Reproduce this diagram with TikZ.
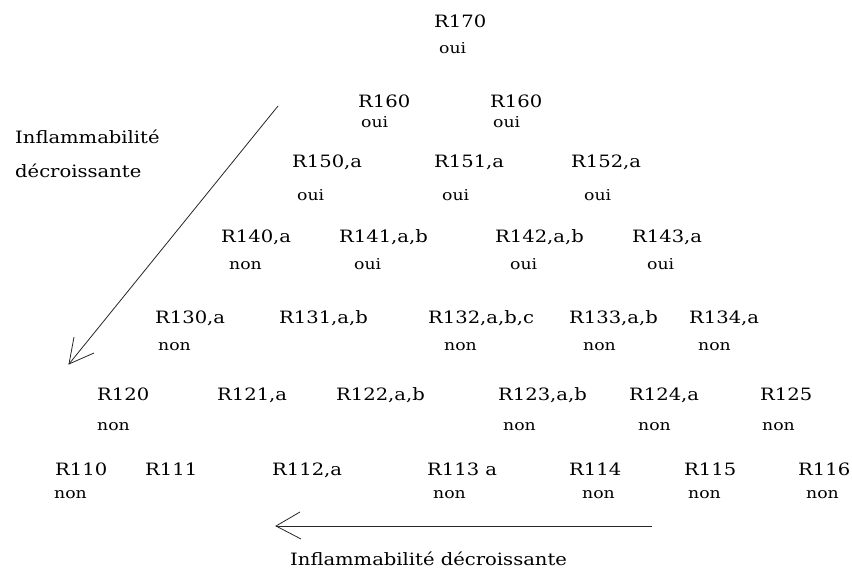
\documentclass[tikz,border=0pt]{standalone}
\usepackage{fontspec}
\newfontfamily\labfont[FakeStretch=1.15]{DejaVu Serif}
\begin{document}
\begin{tikzpicture}[x=1pt,y=-1pt,
  lab/.style={anchor=base west,inner sep=0pt,font=\labfont\fontsize{17}{20}\selectfont},
  ans/.style={anchor=base west,inner sep=0pt,font=\labfont\fontsize{15}{18}\selectfont},
  arr/.style={line width=0.8pt,black!85}]
\useasboundingbox (0,0) rectangle (852,571);
% row 170
\node[lab] (r170) at (434,27) {R170};
\node[ans] (a170) at (439,53) {oui};
% row 160
\node[lab] (r160a) at (358,107) {R160};
\node[lab] (r160b) at (490,107) {R160};
\node[ans] (a160a) at (361,127) {oui};
\node[ans] (a160b) at (493,127) {oui};
% row 150
\node[lab] (r150) at (292,167) {R150,a};
\node[lab] (r151) at (434,167) {R151,a};
\node[lab] (r152) at (571,167) {R152,a};
\node[ans] (a150) at (297,200) {oui};
\node[ans] (a151) at (442,200) {oui};
\node[ans] (a152) at (584,200) {oui};
% row 140
\node[lab] (r140) at (221,242) {R140,a};
\node[lab] (r141) at (339,242) {R141,a,b};
\node[lab] (r142) at (495,242) {R142,a,b};
\node[lab] (r143) at (632,242) {R143,a};
\node[ans] (a140) at (229,269) {non};
\node[ans] (a141) at (354,269) {oui};
\node[ans] (a142) at (510,269) {oui};
\node[ans] (a143) at (647,269) {oui};
% row 130
\node[lab] (r130) at (155,323) {R130,a};
\node[lab] (r131) at (279,323) {R131,a,b};
\node[lab] (r132) at (428,323) {R132,a,b,c};
\node[lab] (r133) at (569,323) {R133,a,b};
\node[lab] (r134) at (689,323) {R134,a};
\node[ans] (a130) at (158,350) {non};
\node[ans] (a132) at (444,350) {non};
\node[ans] (a133) at (583,350) {non};
\node[ans] (a134) at (698,350) {non};
% row 120
\node[lab] (r120) at (97,400) {R120};
\node[lab] (r121) at (217,400) {R121,a};
\node[lab] (r122) at (336,400) {R122,a,b};
\node[lab] (r123) at (498,400) {R123,a,b};
\node[lab] (r124) at (629,400) {R124,a};
\node[lab] (r125) at (760,400) {R125};
\node[ans] (a120) at (97,430) {non};
\node[ans] (a123) at (503,430) {non};
\node[ans] (a124) at (638,430) {non};
\node[ans] (a125) at (762,430) {non};
% row 110
\node[lab] (r110) at (55,475) {R110};
\node[lab] (r111) at (145,475) {R111};
\node[lab] (r112) at (272,475) {R112,a};
\node[lab] (r113) at (427,475) {R113 a};
\node[lab] (r114) at (569,475) {R114};
\node[lab] (r115) at (684,475) {R115};
\node[lab] (r116) at (798,475) {R116};
\node[ans] (a110) at (54,498) {non};
\node[ans] (a113) at (433,498) {non};
\node[ans] (a114) at (582,498) {non};
\node[ans] (a115) at (688,498) {non};
\node[ans] (a116) at (806,498) {non};
% side labels
\node[lab] (infl1) at (15,143) {Inflammabilité};
\node[lab] (infl2) at (15,177) {décroissante};
\node[lab] (infl3) at (290,565) {Inflammabilité décroissante};
% diagonal arrow
\coordinate (d1) at (278,106);
\coordinate (d2) at (69,364);
\coordinate (d3) at (74,337);
\coordinate (d4) at (94,353);
\draw[arr] (d1) -- (d2);
\draw[arr] (d3) -- (d2) -- (d4);
% horizontal arrow
\coordinate (h1) at (652,526);
\coordinate (h2) at (276,526);
\coordinate (h3) at (300,512);
\coordinate (h4) at (301,539);
\draw[arr] (h1) -- (h2);
\draw[arr] (h3) -- (h2) -- (h4);
\end{tikzpicture}
\end{document}
